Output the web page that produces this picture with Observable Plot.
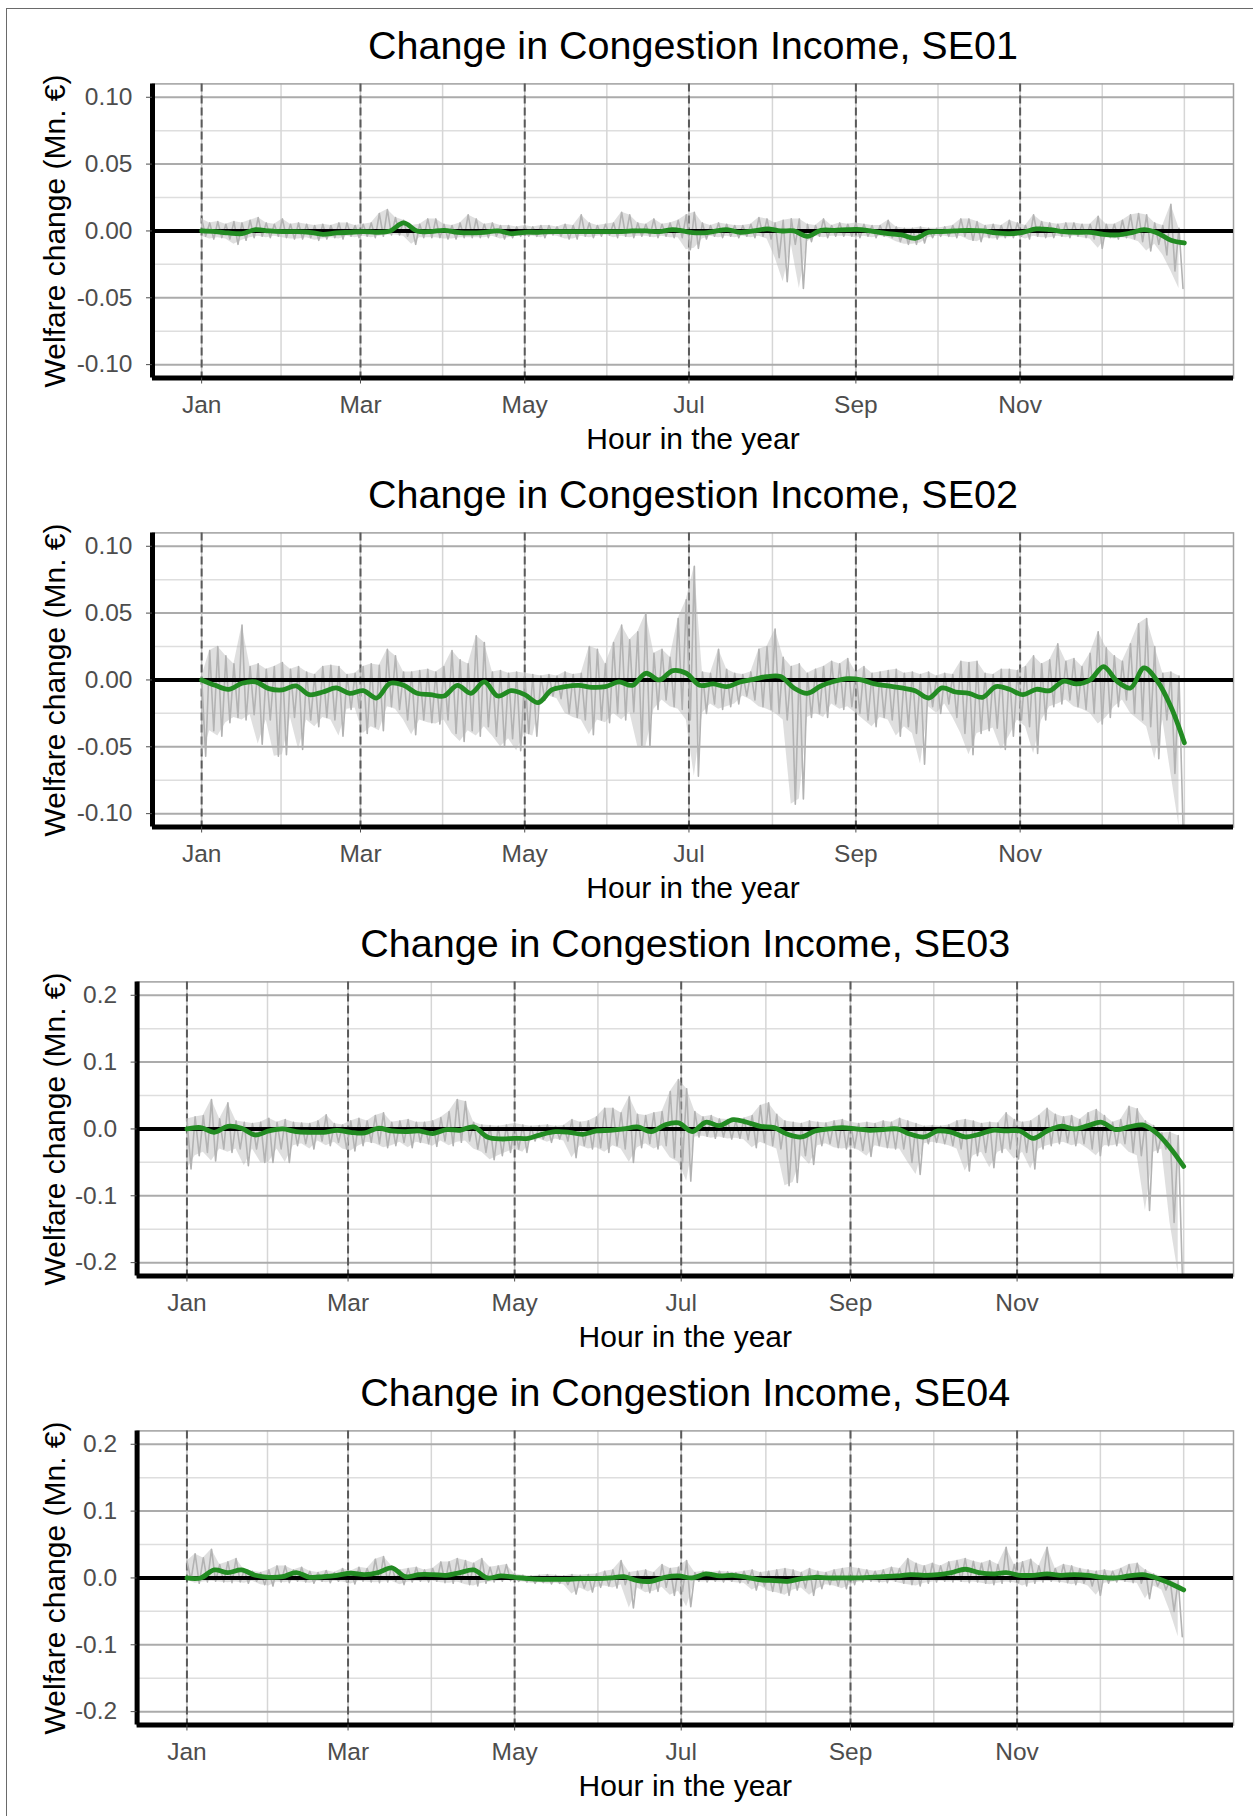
<!DOCTYPE html>
<html><head><meta charset="utf-8">
<script src="https://cdn.jsdelivr.net/npm/d3@7"></script>
<script src="https://cdn.jsdelivr.net/npm/@observablehq/plot@0.6"></script>
<style>
html,body{margin:0;padding:0;background:#fff;}
#fig{position:relative;width:1253px;height:1816px;overflow:hidden;background:#fff;}
#border{position:absolute;left:6px;top:8px;width:1400px;height:2000px;border-left:1.5px solid #6a6a6a;border-top:1.5px solid #6a6a6a;}
.panel{position:absolute;left:0;}
</style></head><body><div id="fig"><div id="border"></div></div>
<script>
// ---------- categories / ticks ----------
const zones = ["SE01", "SE02", "SE03", "SE04"];
const titles = zones.map(z => "Change in Congestion Income, " + z);
const yTitle = "Welfare change (Mn. €)";
const xTitle = "Hour in the year";
const monthTicks = [0, 59, 120, 181, 243, 304];          // day of year
const monthLabels = ["Jan", "Mar", "May", "Jul", "Sep", "Nov"];
const minorDays = [29.5, 89.5, 150.5, 212, 273.5, 334.5, 365];
const yTicksSmall = [-0.1, -0.05, 0, 0.05, 0.1];
const yLabelsSmall = ["-0.10", "-0.05", "0.00", "0.05", "0.10"];
const yMinorSmall = [-0.075, -0.025, 0.025, 0.075];
const yTicksLarge = [-0.2, -0.1, 0, 0.1, 0.2];
const yLabelsLarge = ["-0.2", "-0.1", "0.0", "0.1", "0.2"];
const yMinorLarge = [-0.15, -0.05, 0.05, 0.15];

// sampling grids (day of year)
const greenDays = d3.range(0, 366, 5);   // smoothed series, every 5 days
const grayDays = d3.range(0, 364, 3);    // hourly envelope, 3-day windows

// ---------- values, in thousandths of Mn. € ----------
const se01Green = [0,-0.5,-1.5,-2,1,0,-0.5,-0.5,-1,-2.5,
  -1.5,-1,-0.5,-1,0,6,0,-0.5,0.5,-1,
  -1.5,-1,0,-2,-1,-1,-0.5,-0.5,-0.5,-0.5,
  -0.5,-0.5,0,0,-0.5,1,-0.5,-1.5,-0.5,1,
  -1,0,1.5,0,0,-4,0.5,0.5,1,1,
  -0.5,-2,-3,-5.5,-1,-0.5,0,0.5,0,-1.5,
  -2,-1,1.5,1,-0.5,-1,-1,-2.5,-3,-1.5,
  1,-1.5,-7,-9];
const se02Green = [0,-4,-7,-2.5,-1.5,-6.5,-7.5,-4.5,-11,-9,
  -6,-10,-8,-13.5,-2.5,-4,-10,-11,-12,-4,
  -10,-1.5,-12,-8,-11,-17,-7.5,-5,-4,-5.5,
  -5,-1.5,-4,5,0,7,5,-4,-3,-5,
  -1.5,0.5,2.5,2.5,-6,-10,-4.5,-1,1,0,
  -3,-4.5,-6,-8,-13.5,-6,-9,-10,-13,-5,
  -7,-11,-7,-8,-1,-3,0,10,-1,-6,
  9,-1,-20,-47];
const se03Green = [0,2,-5,4,1,-9,-3,0,-4,-5,
  -5,-2,-5,-6,1,-3,-4,-3,-7,-1,
  -2,3,-12,-15,-14,-14,-8,-4,-5,-8,
  -3,-2,0,3,-4,6,9,-4,10,5,
  14,10,4,2,-8,-12,-3,0,2,0,
  -2,-1,0,-8,-12,-3,-5,-12,-8,-2,
  -3,-3,-14,-3,4,0,5,10,-1,3,
  6,-6,-28,-56];
const se04Green = [0,0,12,8,12,4,1,2,8,1,
  2,4,7,5,8,15,2,5,5,4,
  8,12,0,3,1,-1,-2,-2,-2,-1,
  -1,0,2,-4,-5,1,3,0,6,3,
  4,1,-3,-4,-5,-1,1,0,0,0,
  1,2,3,5,4,5,8,13,8,6,
  8,4,4,6,4,5,4,1,0,3,
  5,0,-8,-18];

const se01Hi = [9,6,7,5,7,6,8,10,6,5, 9,5,6,5,4,5,4,6,6,4, 5,6,13,16,10,8,4,5,9,9,
  5,4,6,12,9,5,6,4,4,3, 4,3,4,4,3,5,4,12,6,4, 5,6,14,12,6,5,9,5,6,8,
  12,14,6,4,6,5,4,4,5,10, 9,6,8,9,9,5,4,9,4,6, 5,6,5,4,4,8,3,2,2,3,
  2,2,3,4,9,9,7,4,5,4, 8,6,4,12,7,6,5,6,6,5, 5,11,5,5,8,12,13,12,6,4, 20,2];
const se01Lo = [-4,-6,-5,-6,-10,-7,-5,-4,-5,-4, -5,-6,-6,-5,-7,-6,-5,-6,-4,-5, -4,-5,-4,-3,-3,-4,-10,-5,-5,-5,
  -6,-6,-5,-5,-5,-5,-4,-6,-5,-4, -4,-4,-5,-3,-4,-6,-6,-4,-5,-4, -3,-5,-4,-5,-4,-4,-5,-4,-5,-5,
  -14,-13,-6,-4,-5,-4,-5,-4,-5,-4, -6,-20,-38,-10,-43,-8,-4,-5,-4,-4, -4,-5,-4,-5,-4,-5,-8,-10,-10,-9,
  -5,-4,-4,-5,-4,-7,-8,-5,-6,-5, -5,-4,-6,-4,-5,-5,-4,-5,-4,-5, -6,-13,-5,-6,-5,-6,-8,-15,-10,-18, -30,-43];

const se02Hi = [2,22,25,18,12,41,10,12,8,10, 13,8,10,6,4,10,11,10,4,5, 10,12,11,23,18,6,6,7,8,6,
  10,22,15,12,33,28,6,7,5,6, 5,4,3,4,3,6,4,5,25,23, 12,28,41,30,36,50,20,23,17,46,
  60,85,6,5,23,8,5,4,6,23, 25,38,17,10,12,5,8,10,14,12, 16,6,10,5,6,7,8,5,6,4,
  6,3,5,4,14,13,14,5,4,8, 8,7,10,18,12,15,27,14,16,10, 20,36,24,18,14,27,42,46,25,5, 6,3];
const se02Lo = [-57,-38,-42,-32,-28,-30,-26,-48,-30,-57, -56,-28,-52,-30,-35,-28,-30,-42,-22,-21, -40,-35,-38,-20,-22,-30,-41,-30,-32,-33,
  -30,-40,-46,-38,-42,-35,-42,-50,-44,-53, -40,-42,-15,-12,-14,-25,-28,-30,-41,-30, -32,-25,-30,-24,-50,-50,-22,-15,-20,-22,
  -30,-72,-25,-18,-22,-20,-18,-12,-15,-20, -22,-25,-30,-93,-89,-28,-25,-28,-18,-22, -20,-25,-30,-35,-28,-30,-42,-35,-40,-63,
  -20,-25,-18,-28,-40,-56,-40,-38,-36,-52, -42,-30,-35,-55,-30,-20,-18,-15,-20,-22, -25,-33,-28,-20,-15,-25,-30,-35,-59,-30, -70,-109];

const se03Hi = [15,18,20,44,15,39,12,10,8,10, 16,10,14,10,9,8,12,21,8,6, 12,16,12,20,24,10,12,14,10,10,
  12,17,26,44,41,10,6,5,4,6, 8,6,4,5,6,4,5,14,10,12, 18,31,31,24,48,22,20,24,26,56,
  74,60,26,18,20,15,14,12,16,20, 35,39,22,12,10,8,12,10,9,12, 14,10,8,10,8,12,10,16,12,8,
  4,5,4,6,12,14,12,8,10,9, 24,14,10,12,20,31,22,18,20,14, 24,29,20,10,14,34,30,12,5,-6, -5,-10];
const se03Lo = [-60,-40,-35,-48,-30,-35,-30,-55,-30,-50, -50,-30,-50,-25,-22,-30,-18,-25,-20,-30, -33,-25,-20,-22,-28,-25,-20,-28,-20,-22,
  -26,-18,-25,-20,-18,-30,-35,-46,-40,-35, -30,-35,-18,-15,-20,-15,-18,-43,-25,-30, -28,-35,-25,-30,-50,-28,-22,-30,-25,-43,
  -50,-78,-12,-11,-14,-12,-15,-14,-16,-28, -20,-25,-30,-85,-80,-40,-53,-25,-22,-28, -30,-28,-32,-41,-25,-28,-30,-30,-50,-68,
  -22,-20,-22,-25,-30,-63,-40,-35,-58,-35, -30,-45,-35,-60,-30,-25,-22,-20,-25,-22, -30,-40,-25,-25,-22,-35,-40,-122,-35,-30, -140,-216];

const se04Hi = [25,36,30,43,20,24,29,12,10,8, 12,18,18,12,16,10,8,11,8,14, 10,16,14,28,32,18,12,14,16,12,
  14,24,24,29,26,22,29,16,18,20, 6,4,3,4,5,4,3,5,4,5, 6,10,12,26,8,10,12,8,20,14,
  16,26,8,10,8,10,9,8,10,12, 8,10,12,14,12,8,14,10,8,12, 14,16,14,12,10,12,16,14,29,22,
  18,22,18,24,26,29,25,22,26,20, 46,20,24,28,18,46,14,20,18,14, 12,10,12,10,14,20,22,12,6,2, -2,-4];
const se04Lo = [-3,-8,-6,-5,-6,-7,-6,-8,-5,-10, -12,-6,-7,-5,-6,-8,-5,-7,-5,-6, -9,-5,-6,-7,-6,-5,-10,-6,-5,-6,
  -5,-7,-8,-6,-10,-12,-8,-6,-5,-4, -5,-6,-8,-7,-9,-8,-10,-24,-15,-21, -14,-12,-15,-10,-45,-15,-22,-20,-14,-26,
  -20,-43,-5,-6,-5,-6,-5,-7,-8,-18, -12,-20,-22,-26,-18,-15,-26,-16,-10,-12, -16,-10,-6,-5,-6,-7,-5,-8,-10,-12,
  -8,-6,-5,-6,-5,-7,-6,-8,-10,-8, -6,-7,-12,-8,-6,-5,-6,-7,-10,-8, -12,-26,-8,-6,-5,-7,-8,-31,-12,-18, -50,-88];

const greens = [se01Green, se02Green, se03Green, se04Green];
const his = [se01Hi, se02Hi, se03Hi, se04Hi];
const los = [se01Lo, se02Lo, se03Lo, se04Lo];

// ---------- drawing ----------
const W = 1253, H = 449, PITCH = 449, TOP0 = 8;
const xDomain = [-18.25, 383.25];
const FONT = "'Liberation Sans', Arial, sans-serif";

function panel(i) {
  const big = i >= 2;
  const L = big ? 136.6 : 152;
  const R = 1233;
  const mt = 75.4, mb = 79.5;
  const yDomain = big ? [-0.22, 0.22] : [-0.11, 0.11];
  const yTicks = big ? yTicksLarge : yTicksSmall;
  const yLabels = big ? yLabelsLarge : yLabelsSmall;
  const yMinor = big ? yMinorLarge : yMinorSmall;
  const green = greenDays.map((d, k) => ({x: d, y: greens[i][k] / 1000}));
  const band = grayDays.map((d, k) => ({x: d, hi: his[i][k] / 1000, lo: los[i][k] / 1000}));
  const gray = grayDays.flatMap((d, k) => [
    {x: d, y: his[i][k] / 1000},
    {x: d + 1.5, y: los[i][k] / 1000}
  ]);
  return Plot.plot({
    width: W, height: H,
    marginLeft: L, marginRight: W - R, marginTop: mt, marginBottom: mb,
    x: {domain: xDomain, axis: null},
    y: {domain: yDomain, axis: null},
    style: {fontFamily: FONT, background: "transparent", overflow: "visible"},
    marks: [
      Plot.ruleY(yMinor, {stroke: "#dedede", strokeWidth: 1.5}),
      Plot.ruleX(minorDays, {stroke: "#d6d6d6", strokeWidth: 1.5}),
      Plot.ruleY(yTicks, {stroke: "#ababab", strokeWidth: 2}),
      Plot.ruleX(monthTicks, {stroke: "#c4c4c4", strokeWidth: 1.5}),
      Plot.frame({stroke: "#a0a0a0", strokeWidth: 1.5}),
      Plot.ruleX(monthTicks, {stroke: "#5a5a5a", strokeWidth: 2, strokeDasharray: "8,4"}),
      Plot.areaY(band, {x: "x", y1: "lo", y2: "hi", fill: "#b3b3b3", fillOpacity: 0.42}),
      Plot.line(gray, {x: "x", y: "y", stroke: "#b3b3b3", strokeWidth: 1.6}),
      Plot.ruleY([0], {stroke: "black", strokeWidth: 4}),
      Plot.line(green, {x: "x", y: "y", stroke: "#228B22", strokeWidth: 4.8, curve: "catmull-rom",
        strokeLinecap: "round", strokeLinejoin: "round"}),
      Plot.ruleX([xDomain[0]], {stroke: "black", strokeWidth: 5}),
      Plot.ruleY([yDomain[0]], {stroke: "black", strokeWidth: 5}),
      Plot.axisY({ticks: yTicks, tickFormat: d => yLabels[yTicks.indexOf(d)],
        tickSize: 6, tickPadding: 14, fontSize: 24.5, color: "#4d4d4d", label: null}),
      Plot.axisX({ticks: monthTicks, tickFormat: d => monthLabels[monthTicks.indexOf(d)],
        tickSize: 6, tickPadding: 12, fontSize: 24.5, color: "#4d4d4d", label: null}),
      Plot.text([titles[i]], {text: d => d, frameAnchor: "top", dy: -37.4, lineAnchor: "middle",
        textAnchor: "middle", fontSize: 39.5, fill: "black"}),
      Plot.text([yTitle], {text: d => d, frameAnchor: "left", dx: 55 - L, rotate: -90,
        lineAnchor: "middle", textAnchor: "middle", fontSize: 30, fill: "black"}),
      Plot.text([xTitle], {text: d => d, frameAnchor: "bottom", dy: 61, lineAnchor: "middle",
        textAnchor: "middle", fontSize: 30, fill: "black"})
    ]
  });
}

const fig = document.getElementById("fig");
zones.forEach((z, i) => {
  const wrap = document.createElement("div");
  wrap.className = "panel";
  wrap.style.top = (TOP0 + PITCH * i) + "px";
  wrap.appendChild(panel(i));
  fig.appendChild(wrap);
});
</script></body></html>
